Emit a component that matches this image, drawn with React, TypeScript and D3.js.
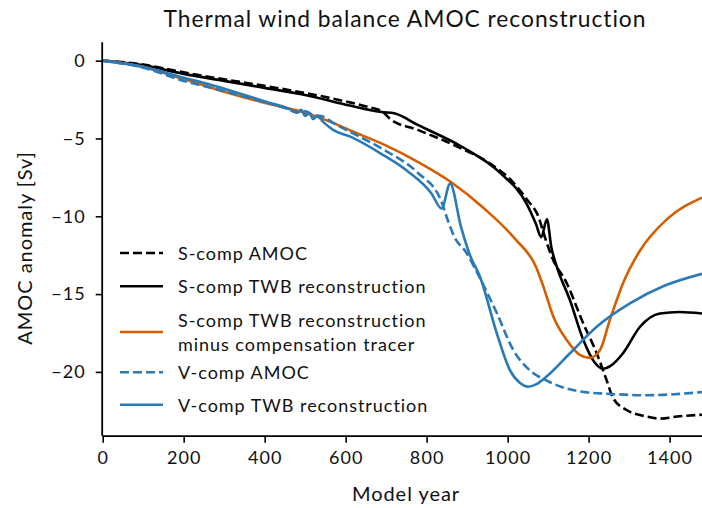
import React, { useEffect, useRef } from "react";
import * as d3 from "d3";

type Pt = [number, number];

// S-comp AMOC (model)
const sCompAmoc: Pt[] = [
  [0, 0], [100, -0.25], [200, -0.75], [300, -1.2], [400, -1.62], [500, -2.08],
  [600, -2.62], [660, -3.0], [690, -3.25], [710, -3.75], [778, -4.45], [885, -5.63],
  [950, -6.5], [1008, -7.67], [1050, -9.0], [1074, -9.9], [1094, -11.5], [1109, -12.6],
  [1146, -14.3], [1187, -16.9], [1220, -18.8], [1244, -20.5], [1261, -21.7], [1294, -22.45],
  [1340, -22.85], [1376, -23.0], [1425, -22.85], [1480, -22.75],
];

// S-comp TWB reconstruction
const sCompTwb: Pt[] = [
  [0, 0], [100, -0.3], [200, -0.85], [300, -1.3], [400, -1.75], [500, -2.2],
  [613, -2.9], [690, -3.3], [720, -3.38], [778, -4.13], [885, -5.5], [983, -7.24],
  [1047, -9.2], [1070, -10.5], [1083, -11.35], [1097, -10.2], [1108, -12.0], [1121, -13.2],
  [1154, -15.4], [1187, -17.95], [1215, -19.4], [1235, -19.8], [1255, -19.6], [1285, -18.8],
  [1327, -17.1], [1376, -16.25], [1425, -16.15], [1480, -16.25],
];

// S-comp TWB reconstruction minus compensation tracer
const sCompMinusTracer: Pt[] = [
  [0, 0], [100, -0.4], [200, -1.2], [240, -1.5], [300, -2.0], [405, -2.74],
  [500, -3.35], [569, -4.0], [613, -4.5], [695, -5.4], [778, -6.5], [860, -7.8],
  [942, -9.5], [1020, -11.5], [1071, -13.3], [1088, -14.5], [1113, -16.45], [1146, -17.95],
  [1178, -18.9], [1203, -19.1], [1228, -18.6], [1252, -16.7], [1285, -14.3], [1327, -12.2],
  [1393, -10.2], [1480, -8.8],
];

// V-comp AMOC (model)
const vCompAmoc: Pt[] = [
  [0, 0], [100, -0.45], [200, -1.3], [300, -1.95], [405, -2.7], [450, -3.05],
  [480, -3.3], [500, -3.25], [520, -3.5], [545, -3.6], [569, -4.0], [613, -4.6],
  [695, -5.74], [778, -7.2], [835, -8.95], [852, -10.24], [868, -11.3], [897, -12.3],
  [932, -14.0], [973, -16.2], [1014, -18.6], [1055, -19.9], [1100, -20.6], [1137, -21.0],
  [1190, -21.3], [1244, -21.4], [1343, -21.5], [1480, -21.3],
];

// V-comp TWB reconstruction
const vCompTwb: Pt[] = [
  [0, 0], [100, -0.4], [200, -1.1], [240, -1.35], [300, -1.8], [405, -2.65],
  [460, -3.1], [480, -3.35], [490, -3.15], [500, -3.55], [510, -3.35], [520, -3.75],
  [530, -3.55], [545, -3.95], [569, -4.45], [613, -4.9], [695, -6.1], [753, -7.1],
  [811, -8.5], [837, -9.5], [858, -7.9], [885, -10.7], [907, -12.5], [932, -13.9],
  [973, -17.5], [1006, -19.9], [1030, -20.7], [1051, -20.95], [1070, -20.8], [1096, -20.3],
  [1154, -18.8], [1220, -17.1], [1302, -15.6], [1384, -14.5], [1480, -13.7],
];

const xTicks = [0, 200, 400, 600, 800, 1000, 1200, 1400];
const yTicks = [0, -5, -10, -15, -20];

const series = [
  { label: ["S-comp AMOC"], data: sCompAmoc, color: "#000000", dash: "9,4" },
  { label: ["S-comp TWB reconstruction"], data: sCompTwb, color: "#000000", dash: "" },
  {
    label: ["S-comp TWB reconstruction", "minus compensation tracer"],
    data: sCompMinusTracer,
    color: "#d55e00",
    dash: "",
  },
  { label: ["V-comp AMOC"], data: vCompAmoc, color: "#2a7ab8", dash: "9,4" },
  { label: ["V-comp TWB reconstruction"], data: vCompTwb, color: "#2a7ab8", dash: "" },
];

const FONT = "Lato, 'Open Sans', sans-serif";
const SPACING = "0.06em";

function createChart(el: SVGSVGElement) {
  const svg = d3.select(el);
  svg.selectAll("*").remove();

  const left = 102.7, right = 702, top = 42.3, bottom = 435.7;

  const x = d3.scaleLinear().domain([0, 1480]).range([left, right]);
  const y = d3.scaleLinear().domain([-24.1, 1.18]).range([bottom, top]);

  // title
  svg
    .append("text")
    .attr("x", 405)
    .attr("y", 27)
    .attr("text-anchor", "middle")
    .style("font-size", "22.8px")
    .text("Thermal wind balance AMOC reconstruction");

  const line = d3
    .line<Pt>()
    .x((d) => x(d[0]))
    .y((d) => y(d[1]))
    .curve(d3.curveMonotoneX);

  const plot = svg.append("g");
  series.forEach((s) => {
    plot
      .append("path")
      .attr("d", line(s.data))
      .attr("fill", "none")
      .attr("stroke", s.color)
      .attr("stroke-width", 2.6)
      .attr("stroke-dasharray", s.dash || null)
      .attr("stroke-linejoin", "round");
  });

  // x axis
  const xAxis = svg
    .append("g")
    .attr("transform", `translate(0,${bottom})`)
    .call(d3.axisBottom(x).tickValues(xTicks).tickSize(7).tickPadding(9).tickFormat(d3.format("d")));
  xAxis.select(".domain").attr("stroke-width", 1.8).attr("d", `M${left},0.5H${right}`);
  xAxis.selectAll(".tick line").attr("stroke-width", 1.6);
  xAxis
    .selectAll(".tick text")
    .style("font-family", FONT)
    .style("letter-spacing", SPACING)
    .style("font-size", "18px")
    .attr("fill", "#111");

  // y axis
  const yAxis = svg
    .append("g")
    .attr("transform", `translate(${left},0)`)
    .call(
      d3
        .axisLeft(y)
        .tickValues(yTicks)
        .tickSize(7)
        .tickPadding(10)
        .tickFormat((d) => (Number(d) < 0 ? "\u2212" + Math.abs(Number(d)) : String(d)))
    );
  yAxis.select(".domain").attr("stroke-width", 1.8).attr("d", `M-0.5,${top}V${bottom}`);
  yAxis.selectAll(".tick line").attr("stroke-width", 1.6);
  yAxis
    .selectAll(".tick text")
    .style("font-family", FONT)
    .style("letter-spacing", SPACING)
    .style("font-size", "18px")
    .attr("fill", "#111");

  // axis labels
  svg
    .append("text")
    .attr("x", 406)
    .attr("y", 501)
    .attr("text-anchor", "middle")
    .style("font-size", "20px")
    .text("Model year");

  svg
    .append("text")
    .attr("transform", "translate(32,248) rotate(-90)")
    .attr("text-anchor", "middle")
    .style("font-size", "20px")
    .text("AMOC anomaly [Sv]");

  // legend
  const rowY = [253, 286.3, 332, 372.3, 404.7];
  const legend = svg.append("g");
  series.forEach((s, i) => {
    const cy = rowY[i];
    legend
      .append("line")
      .attr("x1", 120)
      .attr("x2", 163)
      .attr("y1", cy)
      .attr("y2", cy)
      .attr("stroke", s.color)
      .attr("stroke-width", 2.6)
      .attr("stroke-dasharray", s.dash || null);
    const lh = 24;
    s.label.forEach((t, j) => {
      legend
        .append("text")
        .attr("x", 178)
        .attr("y", cy + (j - (s.label.length - 1) / 2) * lh)
        .attr("dominant-baseline", "central")
        .style("font-size", "18px")
        .text(t);
    });
  });
}

export default function App() {
  const ref = useRef<SVGSVGElement>(null);
  useEffect(() => {
    if (ref.current) createChart(ref.current);
  }, []);
  return (
    <div>
      <style>{`body{margin:0}`}</style>
      <svg
        ref={ref}
        width={702}
        height={508}
        style={{ display: "block", fontFamily: FONT, letterSpacing: SPACING, background: "#fff" }}
        fill="#111"
      />
    </div>
  );
}
